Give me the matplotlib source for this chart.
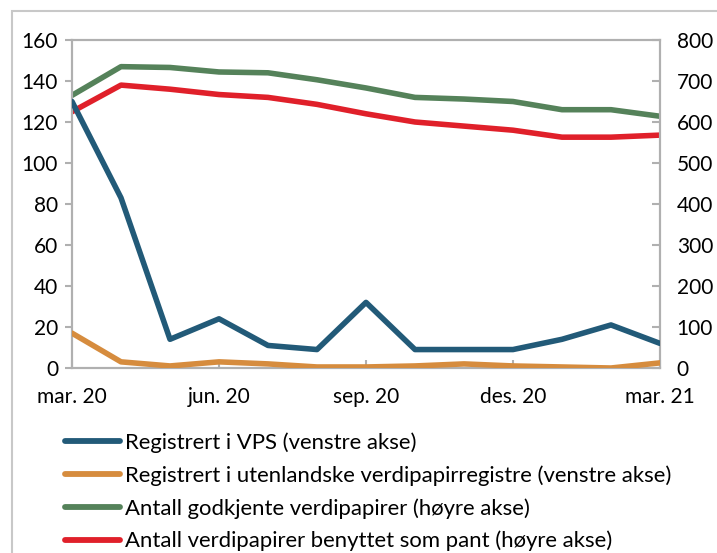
import matplotlib
matplotlib.use("Agg")
import matplotlib.pyplot as plt
from matplotlib.patches import Rectangle
from matplotlib.lines import Line2D

plt.rcParams['font.family'] = ['Lato', 'DejaVu Sans']

months = ["mar. 20", "apr. 20", "mai. 20", "jun. 20", "jul. 20", "aug. 20", "sep. 20",
          "okt. 20", "nov. 20", "des. 20", "jan. 21", "feb. 21", "mar. 21"]
tick_labels = ["mar. 20", "jun. 20", "sep. 20", "des. 20", "mar. 21"]
tick_pos = [0, 3, 6, 9, 12]

vps = [130, 83, 14, 24, 11, 9, 32, 9, 9, 9, 14, 21, 12]
utenl = [17, 3, 1, 3, 2, 0.5, 0.5, 1, 2, 1, 0.5, 0, 2.5]
godkjente = [665, 735, 733, 722, 720, 703, 683, 660, 656, 650, 630, 630, 614]
pant = [625, 690, 680, 667, 660, 643, 620, 600, 590, 580, 563, 563, 568]

labels = ["Registrert i VPS (venstre akse)",
          "Registrert i utenlandske verdipapirregistre (venstre akse)",
          "Antall godkjente verdipapirer (høyre akse)",
          "Antall verdipapirer benyttet som pant (høyre akse)"]
colors = ["#225a78", "#d68c3e", "#55825a", "#e0202a"]

W, H = 717, 553
fig = plt.figure(figsize=(W / 100, H / 100), dpi=100)
ax = fig.add_axes([72 / W, 1 - 368 / H, (660 - 72) / W, (368 - 40) / H])
ax2 = ax.twinx()

x = list(range(len(months)))
lw = 4.0
ax2.plot(x, godkjente, color=colors[2], lw=lw, solid_capstyle='round', zorder=2)
ax2.plot(x, pant, color=colors[3], lw=lw, solid_capstyle='round', zorder=2)
ax.plot(x, vps, color=colors[0], lw=lw, solid_capstyle='round', zorder=3)
ax.plot(x, utenl, color=colors[1], lw=lw, solid_capstyle='round', zorder=3)
ax.set_zorder(ax2.get_zorder() + 1)
ax.patch.set_visible(False)

ax.set_xlim(0, 12)
ax.set_ylim(0, 160)
ax2.set_ylim(0, 800)
ax.set_yticks(range(0, 161, 20))
ax2.set_yticks(range(0, 801, 100))
ax.set_xticks(tick_pos)
ax.set_xticklabels(tick_labels)

spine_c = "#b0b0b0"
for a in (ax, ax2):
    for s in a.spines.values():
        s.set_color(spine_c)
        s.set_linewidth(1.5)
ax.tick_params(axis='y', direction='out', length=5, width=1.5, color=spine_c,
               labelsize=15, pad=5)
ax2.tick_params(axis='y', direction='in', length=6, width=1.5, color=spine_c,
                labelsize=15, pad=12)
ax.tick_params(axis='x', direction='in', length=6, width=1.5, color=spine_c,
               labelsize=15, pad=14)

# outer frame
fig.patches.append(Rectangle((12 / W, -0.1), 1.2, 1 - 11 / H + 0.1,
                             transform=fig.transFigure, fill=False,
                             edgecolor="#c8c8c8", lw=1.5))

handles = [Line2D([0], [0], color=c, lw=4.2, solid_capstyle='round') for c in colors]
fig.legend(handles, labels, loc='upper left', bbox_to_anchor=(65 / W, 1 - 432 / H),
           frameon=False, fontsize=15.9, handlelength=2.5, handletextpad=0.23,
           labelspacing=0.56, borderaxespad=0, borderpad=0)

fig.savefig("out.png", dpi=100)
